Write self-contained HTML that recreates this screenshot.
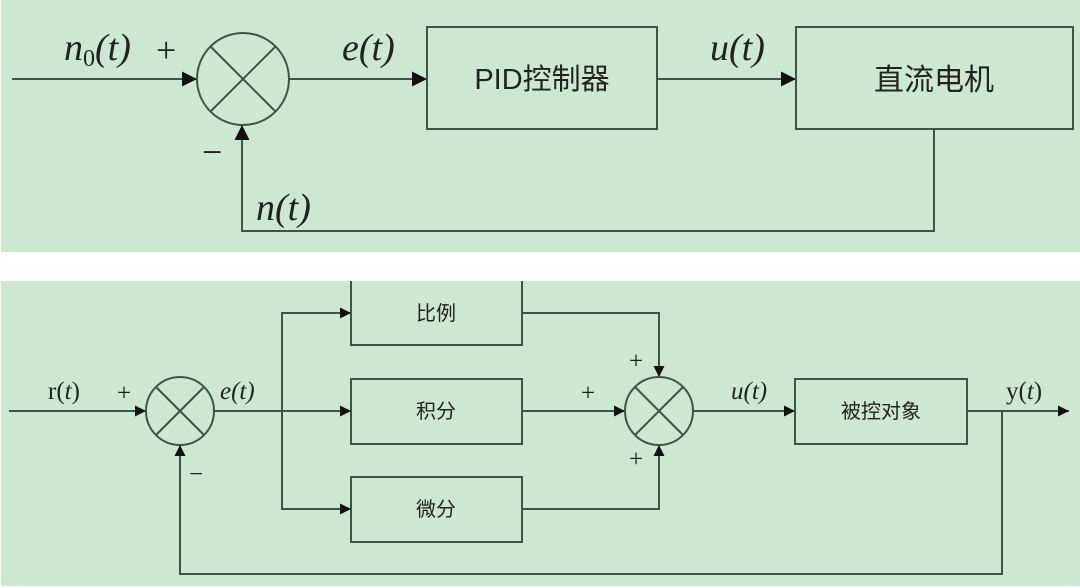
<!DOCTYPE html>
<html><head><meta charset="utf-8"><style>
html,body{margin:0;padding:0;background:#fff;}
svg{display:block}
.m{font-family:"Liberation Serif",serif;font-style:italic;fill:#222}
.r{font-family:"Liberation Serif",serif;fill:#222}
.c{font-family:"Liberation Sans","Noto Sans CJK SC",sans-serif;fill:#222}
</style></head><body>
<svg width="1080" height="588" viewBox="0 0 1080 588" xmlns="http://www.w3.org/2000/svg">
<defs><marker id="a" viewBox="0 0 10 10" refX="10" refY="5" markerWidth="12" markerHeight="11" orient="auto" markerUnits="userSpaceOnUse"><path d="M0,0 L10,5 L0,10 z" fill="#111"/></marker>
<marker id="b" viewBox="0 0 10 10" refX="10" refY="5" markerWidth="17" markerHeight="15" orient="auto" markerUnits="userSpaceOnUse"><path d="M0,0 L10,5 L0,10 z" fill="#111"/></marker></defs>
<rect x="1" y="0" width="1079" height="252" fill="#cde8d0"/>
<rect x="1" y="281" width="1079" height="305" fill="#cde8d0"/>
<g stroke="#3d5544" stroke-width="2" fill="none">
<!-- top -->
<line x1="12" y1="79" x2="197" y2="79" marker-end="url(#b)"/>
<circle cx="243" cy="79" r="46"/>
<line x1="210" y1="46" x2="276" y2="112"/><line x1="276" y1="46" x2="210" y2="112"/>
<line x1="289" y1="79" x2="427" y2="79" marker-end="url(#b)"/>
<rect x="427" y="27" width="230" height="102"/>
<line x1="657" y1="79" x2="796" y2="79" marker-end="url(#b)"/>
<rect x="796" y="27" width="277" height="102"/>
<polyline points="934,129 934,231 242,231 242,125" marker-end="url(#b)"/>
<!-- bottom -->
<line x1="9" y1="411" x2="146" y2="411" marker-end="url(#a)"/>
<circle cx="180" cy="411" r="34"/>
<line x1="156" y1="387" x2="204" y2="435"/><line x1="204" y1="387" x2="156" y2="435"/>
<line x1="214" y1="411" x2="351" y2="411" marker-end="url(#a)"/>
<polyline points="340,313 282,313 282,509 340,509" />
<line x1="330" y1="313" x2="351" y2="313" marker-end="url(#a)"/>
<line x1="330" y1="509" x2="351" y2="509" marker-end="url(#a)"/>
<polyline points="351,281 351,345 522,345 522,281"/>
<rect x="351" y="379" width="171" height="65"/>
<rect x="351" y="477" width="171" height="65"/>
<polyline points="522,313 659,313 659,377" marker-end="url(#a)"/>
<line x1="522" y1="411" x2="625" y2="411" marker-end="url(#a)"/>
<polyline points="522,509 659,509 659,445" marker-end="url(#a)"/>
<circle cx="659" cy="411" r="34"/>
<line x1="635" y1="387" x2="683" y2="435"/><line x1="683" y1="387" x2="635" y2="435"/>
<line x1="693" y1="411" x2="795" y2="411" marker-end="url(#a)"/>
<rect x="795" y="379" width="172" height="65"/>
<line x1="967" y1="411" x2="1069" y2="411" marker-end="url(#a)"/>
<polyline points="1002,411 1002,574 180,574 180,445" marker-end="url(#a)"/>
</g>
<!-- top labels -->
<text x="64" y="60" class="m" font-size="38">n<tspan class="r" font-style="normal" font-size="24" dy="6">0</tspan><tspan dy="-6">(t)</tspan></text>
<text x="156" y="62" class="r" font-size="36">+</text>
<text x="342" y="60" class="m" font-size="38">e(t)</text>
<text x="710" y="60" class="m" font-size="38">u(t)</text>
<text x="202" y="164" class="r" font-size="36">−</text>
<text x="256" y="220" class="m" font-size="38">n(t)</text>
<text x="542" y="89" class="c" font-size="29" text-anchor="middle">PID控制器</text>
<text x="934" y="90" class="c" font-size="30" text-anchor="middle">直流电机</text>
<!-- bottom labels -->
<text x="48" y="399" class="r" font-size="25">r(<tspan font-style="italic">t</tspan>)</text>
<text x="117" y="401" class="r" font-size="25">+</text>
<text x="220" y="399" class="m" font-size="25">e(t)</text>
<text x="189" y="482" class="r" font-size="25">−</text>
<text x="436" y="320" class="c" font-size="20" text-anchor="middle">比例</text>
<text x="436" y="418" class="c" font-size="20" text-anchor="middle">积分</text>
<text x="436" y="516" class="c" font-size="20" text-anchor="middle">微分</text>
<text x="629" y="369" class="r" font-size="25">+</text>
<text x="581" y="401" class="r" font-size="25">+</text>
<text x="629" y="467" class="r" font-size="25">+</text>
<text x="731" y="399" class="m" font-size="25">u(t)</text>
<text x="881" y="418" class="c" font-size="20" text-anchor="middle">被控对象</text>
<text x="1006" y="399" class="r" font-size="25">y(<tspan font-style="italic">t</tspan>)</text>
</svg>
</body></html>
